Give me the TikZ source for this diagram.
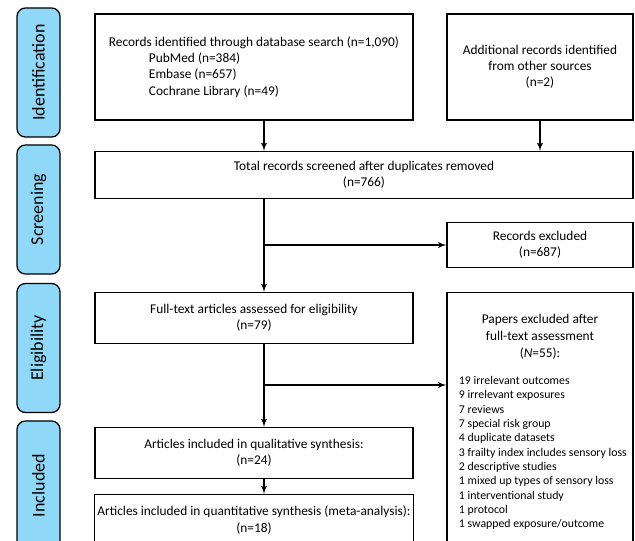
\documentclass[tikz,border=0pt]{standalone}
\usepackage{fontspec}
\setmainfont{Carlito}
\usetikzlibrary{arrows, positioning}
\definecolor{stageblue}{HTML}{8FD8F7}
\tikzstyle{box} = [rectangle, draw, line width=0.9pt, align=center, inner sep=2pt, font=\fontsize{9.5}{11.5}\selectfont]
\tikzstyle{stage} = [rectangle, draw, line width=0.9pt, fill=stageblue, rounded corners=6pt, minimum width=3.225cm, minimum height=1.075cm, rotate=90, font=\fontsize{12.8}{14}\selectfont]
\tikzstyle{line} = [draw, -latex', line width=1pt]
\begin{document}
\begin{tikzpicture}[x=0.025cm, y=-0.025cm, >=latex']
        \clip (0,0) rectangle (635,540);
        % Stages
        \node [stage] (ident) at (38.5,72.5) {Identification};
        \node [stage] (screen) at (38.5,209.5) {Screening};
        \node [stage] (elig) at (38.5,348) {Eligibility};
        \node [stage] (incl) at (38.5,485.5) {Included};

        % Boxes
        \node [box, minimum width=7.95cm, minimum height=2.65cm, align=left] (records) at (254,67)
            {Records identified through database search (n=1,090)\\
             \hspace*{1cm}PubMed (n=384)\\
             \hspace*{1cm}Embase (n=657)\\
             \hspace*{1cm}Cochrane Library (n=49)};
        \node [box, minimum width=4.65cm, minimum height=2.65cm] (other) at (540,67)
            {Additional records identified\\from other sources\\(n=2)};
        \node [box, minimum width=13.45cm, minimum height=1.175cm] (screened) at (364,175)
            {Total records screened after duplicates removed\\(n=766)};
        \node [box, minimum width=4.65cm, minimum height=1.125cm] (excluded) at (540,245)
            {Records excluded\\(n=687)};
        \node [box, minimum width=7.95cm, minimum height=1.275cm] (fulltext) at (254,318)
            {Full-text articles assessed for eligibility\\(n=79)};
        \node [box, minimum width=4.65cm, minimum height=7.5cm, anchor=north] (papers) at (540,292) {};
        \node [align=center, font=\fontsize{9.5}{12}\selectfont] (papershead) at (540,337)
            {Papers excluded after\\full-text assessment\\(\textit{N}=55):};
        \node [anchor=west, align=left, font=\fontsize{8.4}{10.2}\selectfont] (paperslist) at (454,453)
            {19 irrelevant outcomes\\
             9 irrelevant exposures\\
             7 reviews\\
             7 special risk group\\
             4 duplicate datasets\\
             3 frailty index includes sensory loss\\
             2 descriptive studies\\
             1 mixed up types of sensory loss\\
             1 interventional study\\
             1 protocol\\
             1 swapped exposure/outcome};
        \node [box, minimum width=7.95cm, minimum height=1.275cm] (qualitative) at (254,453)
            {Articles included in qualitative synthesis:\\(n=24)};
        \node [box, minimum width=7.95cm, minimum height=1.275cm] (quantitative) at (254,520)
            {Articles included in quantitative synthesis (meta-analysis):\\(n=18)};

        % Paths
        \coordinate (col) at ([xshift=0.25cm]records.south);
        \coordinate (split) at (264,385);
        \draw [line] (col) -- (col |- screened.north);
        \draw [line] (other.south) -- (other.south |- screened.north);
        \draw [line] (screened.south -| col) -- (fulltext.north -| col);
        \draw [line] (col |- excluded.west) -- (excluded.west);
        \draw [line] (fulltext.south -| col) -- (qualitative.north -| col);
        \draw [line] (split) -- (split -| papers.west);
        \draw [line] (qualitative.south -| col) -- (quantitative.north -| col);
    \end{tikzpicture}
\end{document}
